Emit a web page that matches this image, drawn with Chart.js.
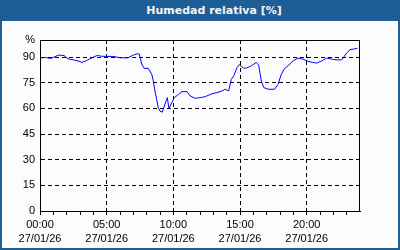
<!DOCTYPE html>
<html>
<head>
<meta charset="utf-8">
<script src="https://cdn.jsdelivr.net/npm/chart.js@4/dist/chart.umd.min.js"></script>
<style>
    html, body { margin: 0; padding: 0; }
    body { width: 400px; height: 250px; position: relative; overflow: hidden; background: #fbfcfb; }
    #frame {
        position: absolute; left: 0; top: 0; width: 396px; height: 248px;
        border: 2px solid #1d5e96; border-top: none;
    }
    #title {
        position: absolute; left: 0; top: 0; width: 400px; height: 21px;
        background: #1d5e96; color: #f4f4f4;
        font: bold 11px "DejaVu Sans", sans-serif; line-height: 21px;
        text-align: center; text-indent: 28px;
    }
    #wrap { position: absolute; left: 0; top: 0; width: 400px; height: 250px; }
</style>
</head>
<body>
<div id="frame"></div>
<div id="wrap"><canvas id="myGraph" width="400" height="250"></canvas></div>
<div id="title">Humedad relativa [%]</div>
<script>
// hours since 00:00 27/01/26
const hours = [0.0, 0.4, 0.8, 1.1, 1.4, 1.8, 2.1, 2.5, 3.0, 3.15, 3.5, 3.9, 4.3, 4.6, 5.0, 5.5, 6.0, 6.6,
    7.0, 7.3, 7.45, 7.63, 7.82, 8.12, 8.38, 8.5, 8.62, 8.75, 8.87, 9.0, 9.17, 9.32, 9.55, 9.67, 9.88,
    10.07, 10.4, 10.65, 11.03, 11.27, 11.65, 12.02, 12.4, 12.9, 13.27, 13.65, 13.9, 14.15, 14.35, 14.53,
    14.78, 14.95, 15.25, 15.47, 15.85, 16.22, 16.4, 16.6, 16.78, 17.1, 17.6, 17.85, 18.1, 18.35, 18.6,
    18.98, 19.35, 19.73, 20.1, 20.42, 20.75, 21.13, 21.5, 21.88, 22.25, 22.63, 23.0, 23.25, 23.5, 23.8];
const humidity = [89.5, 89.8, 89.2, 90.2, 91.2, 90.9, 89.0, 88.4, 87.4, 86.9, 88.0, 89.6, 91.0, 90.5, 90.4, 90.4, 89.6, 89.6,
    91.2, 92.0, 91.8, 85.9, 83.4, 83.4, 80.0, 76.0, 70.2, 65.3, 60.4, 58.4, 57.8, 61.4, 66.3, 59.8, 63.3,
    66.3, 68.2, 69.8, 69.8, 67.2, 65.9, 66.3, 66.9, 68.6, 69.2, 70.2, 71.2, 70.2, 77.0, 79.0,
    83.9, 85.6, 83.6, 83.5, 84.9, 86.9, 85.3, 76.0, 72.2, 71.2, 71.2, 74.1, 80.0, 83.4, 84.9,
    87.8, 89.4, 88.8, 87.6, 86.9, 86.5, 87.8, 89.4, 88.8, 88.4, 88.4, 92.4, 94.3, 94.7, 95.1];
const yTicks = [0, 15, 30, 45, 60, 75, 90, 100];
const dateLabel = '27/01/26';

function hourLabel(h) {
    return String(h).padStart(2, '0') + ':00';
}

// solid frame round the plot area
const boxPlugin = {
    id: 'box',
    afterDraw(chart) {
        const a = chart.chartArea;
        const ctx = chart.ctx;
        ctx.save();
        ctx.strokeStyle = '#000';
        ctx.lineWidth = 1;
        ctx.strokeRect(Math.round(a.left) + 0.5, Math.round(a.top) + 0.5,
            Math.round(a.right - a.left) - 1, Math.round(a.bottom - a.top));
        ctx.restore();
    }
};

const ctx = document.getElementById('myGraph').getContext('2d');
const data = {
    datasets: [{
        label: 'Humedad relativa',
        data: hours.map((h, i) => ({ x: h, y: humidity[i] })),
        borderColor: '#0000ff',
        borderWidth: 1,
        pointRadius: 0,
        fill: false,
        tension: 0,
    }]
};

let myLineChart = new Chart(ctx, {
    type: 'line',
    data: data,
    options: {
        responsive: false,
        animation: false,
        events: [],
        layout: { padding: { left: 2, right: 40, top: 40, bottom: 0 } },
        plugins: { legend: { display: false }, tooltip: { enabled: false } },
        scales: {
            x: {
                type: 'linear',
                min: 0,
                max: 24,
                afterFit(scale) { scale.height = 39; },
                ticks: {
                    stepSize: 1,
                    autoSkip: false,
                    maxRotation: 0,
                    padding: 3,
                    color: '#000',
                    font: { family: 'Liberation Sans', size: 11, lineHeight: '14px' },
                    callback: (v) => (v % 5 === 0 && v < 24) ? [hourLabel(v), dateLabel] : '',
                },
                grid: {
                    color: (c) => (c.tick && c.tick.value % 5 === 0 && c.tick.value > 0 && c.tick.value < 24) ? '#000' : 'rgba(0,0,0,0)',
                    tickColor: (c) => (c.tick && c.tick.value < 24) ? '#000' : 'rgba(0,0,0,0)',
                    tickLength: 4,
                    lineWidth: 1,
                },
                border: { color: '#000', dash: [4, 3] },
            },
            y: {
                min: 0,
                max: 100,
                afterFit(scale) { scale.width = 38; },
                afterBuildTicks(scale) { scale.ticks = yTicks.map(v => ({ value: v })); },
                ticks: {
                    padding: 5,
                    color: '#000',
                    font: { family: 'Liberation Sans', size: 11 },
                    callback: (v) => v === 100 ? '%' : v,
                },
                grid: {
                    color: (c) => (c.tick && c.tick.value > 0 && c.tick.value < 100) ? '#000' : 'rgba(0,0,0,0)',
                    drawTicks: false,
                    lineWidth: 1,
                },
                border: { color: '#000', dash: [4, 3] },
            }
        }
    },
    plugins: [boxPlugin]
});
</script>
</body>
</html>
